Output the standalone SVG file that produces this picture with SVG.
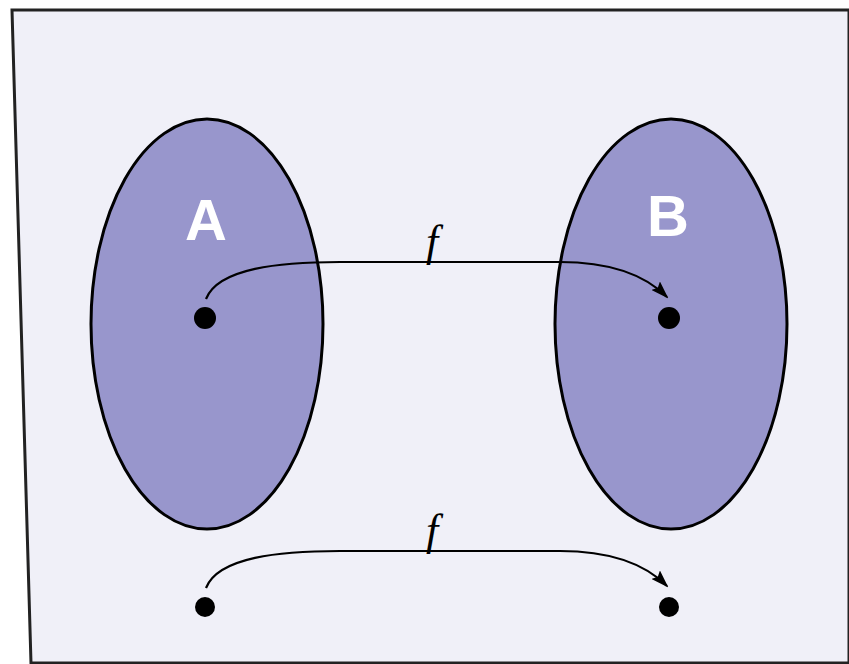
<svg xmlns="http://www.w3.org/2000/svg" width="849" height="664" viewBox="0 0 849 664">
<style>
.set{fill:#9896cc;stroke:#000;stroke-width:3}
.dot{fill:#000}
.lbl{font-family:"Liberation Sans",Arial,sans-serif;font-weight:bold;font-size:58px;fill:#fff;text-anchor:middle}
.fn{font-family:"Liberation Serif","Times New Roman",serif;font-style:italic;font-size:44px;fill:#000;text-anchor:middle}
.arc{fill:none;stroke:#000;stroke-width:2.2;marker-end:url(#ah)}
</style>
<defs>
<marker id="ah" viewBox="0 0 18 12" refX="16" refY="6" markerWidth="18" markerHeight="12" markerUnits="userSpaceOnUse" orient="auto">
<path d="M0,0 L18,6 L0,12 L3,6 Z" fill="#000"/>
</marker>
</defs>
<rect width="849" height="664" fill="#fff"/>
<polygon points="12,10 849,10 849,663 31,663" fill="#f0f0f8" stroke="#222" stroke-width="3"/>
<g id="setA">
<ellipse class="set" cx="207" cy="324" rx="116" ry="205"/>
<text class="lbl" x="206" y="240">A</text>
</g>
<g id="setB">
<ellipse class="set" cx="671" cy="324" rx="116" ry="205"/>
<text class="lbl" x="668" y="236">B</text>
</g>
<g id="a1"><circle class="dot" cx="205" cy="318" r="11"/></g>
<g id="b1"><circle class="dot" cx="669" cy="318" r="11"/></g>
<g id="a2"><circle class="dot" cx="205" cy="607" r="10"/></g>
<g id="b2"><circle class="dot" cx="669" cy="607" r="10"/></g>
<g id="connectors">
<path class="arc" d="M206,299 C218,268 280,262 340,262 L560,262 C610,262 645,275 667,297"/>
<text class="fn" x="432" y="256">f</text>
<path class="arc" d="M206,588 C218,557 280,551 340,551 L560,551 C610,551 645,564 667,586"/>
<text class="fn" x="432" y="545">f</text>
</g>
</svg>
